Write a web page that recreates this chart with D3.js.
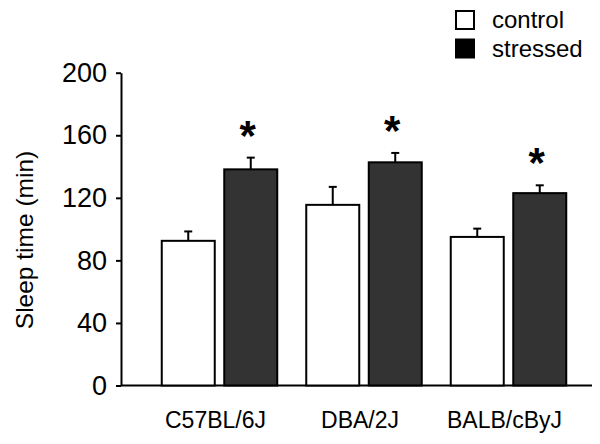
<!DOCTYPE html>
<html>
<head>
<meta charset="utf-8">
<script src="https://cdn.jsdelivr.net/npm/d3@7"></script>
<style>
  html, body { margin: 0; padding: 0; background: #fff; }
  svg { display: block; font-family: "Liberation Sans", Arial, sans-serif; }
</style>
</head>
<body>
<svg id="chart" width="600" height="444"></svg>
<script>
// ---- data ----
const strains = ["C57BL/6J", "DBA/2J", "BALB/cByJ"];
const groups = ["control", "stressed"];
const controlMean = [92.5, 115.5, 95];
const controlErr = [6, 11.5, 5.3];
const stressedMean = [138.2, 142.7, 123];
const stressedErr = [7.5, 6, 5];
const significant = [true, true, true];
const yTicks = [0, 40, 80, 120, 160, 200];
const yLabel = "Sleep time (min)";

const svg = d3.select("#chart");

const y = d3.scaleLinear().domain([0, 200]).range([385.5, 72.7]);
const x0 = d3.scaleBand().domain(strains).range([147.25, 580.75]).paddingInner(0).paddingOuter(0);
const x1 = d3.scaleBand().domain(groups).range([14.5, 130]).paddingInner(0.152).paddingOuter(0);

const fills = { control: "#ffffff", stressed: "#333333" };

const rows = [];
strains.forEach((s, i) => {
  rows.push({ strain: s, group: "control", mean: controlMean[i], err: controlErr[i], sig: false });
  rows.push({ strain: s, group: "stressed", mean: stressedMean[i], err: stressedErr[i], sig: significant[i] });
});

// x axis baseline
svg.append("line")
  .attr("x1", 121).attr("x2", 592)
  .attr("y1", y(0)).attr("y2", y(0))
  .attr("stroke", "#000").attr("stroke-width", 2);

// bars
const g = svg.append("g");
rows.forEach(d => {
  const bx = x0(d.strain) + x1(d.group);
  const bw = x1.bandwidth();
  const cx = bx + bw / 2;
  // error bar (upper only)
  g.append("line")
    .attr("x1", cx).attr("x2", cx)
    .attr("y1", y(d.mean)).attr("y2", y(d.mean + d.err))
    .attr("stroke", "#000").attr("stroke-width", 2);
  g.append("line")
    .attr("x1", cx - 4).attr("x2", cx + 4)
    .attr("y1", y(d.mean + d.err)).attr("y2", y(d.mean + d.err))
    .attr("stroke", "#000").attr("stroke-width", 2);
  g.append("rect")
    .attr("x", bx).attr("y", y(d.mean))
    .attr("width", bw).attr("height", y(0) - y(d.mean))
    .attr("fill", fills[d.group])
    .attr("stroke", "#000").attr("stroke-width", 2);
  if (d.sig) {
    g.append("text")
      .attr("x", cx - 3).attr("y", y(d.mean + d.err) - 8)
      .attr("text-anchor", "middle")
      .attr("font-size", 42).attr("font-weight", "bold")
      .text("*");
  }
});

// y axis
const yAxis = d3.axisLeft(y).tickValues(yTicks).tickSize(5).tickSizeOuter(0).tickPadding(9);
const ya = svg.append("g").attr("transform", "translate(121,0)").call(yAxis);
ya.select(".domain").attr("stroke", "#000").attr("stroke-width", 2);
ya.selectAll(".tick line").attr("stroke", "#000").attr("stroke-width", 2);
ya.selectAll(".tick text")
  .attr("font-size", 27)
  .attr("font-family", "Liberation Sans, Arial, sans-serif")
  .attr("fill", "#000");

// category labels
const xAxis = d3.axisBottom(x0).tickSize(0).tickPadding(0);
const xa = svg.append("g").attr("transform", "translate(-4," + 412 + ")").call(xAxis);
xa.select(".domain").remove();
xa.selectAll(".tick text")
  .attr("font-size", 23)
  .attr("font-family", "Liberation Sans, Arial, sans-serif")
  .attr("fill", "#000")
  .attr("dy", "0.71em");

// y label
svg.append("text")
  .attr("transform", "translate(33,240) rotate(-90)")
  .attr("text-anchor", "middle")
  .attr("font-size", 24.5)
  .text(yLabel);

// legend
const legend = svg.append("g");
groups.forEach((k, i) => {
  const ly = 11 + i * 28.5;
  legend.append("rect")
    .attr("x", 456).attr("y", ly)
    .attr("width", 18).attr("height", 18)
    .attr("fill", k === "control" ? "#fff" : "#000")
    .attr("stroke", "#000").attr("stroke-width", 2);
  legend.append("text")
    .attr("x", 492).attr("y", ly + 17)
    .attr("font-size", 24)
    .text(k);
});
</script>
</body>
</html>
